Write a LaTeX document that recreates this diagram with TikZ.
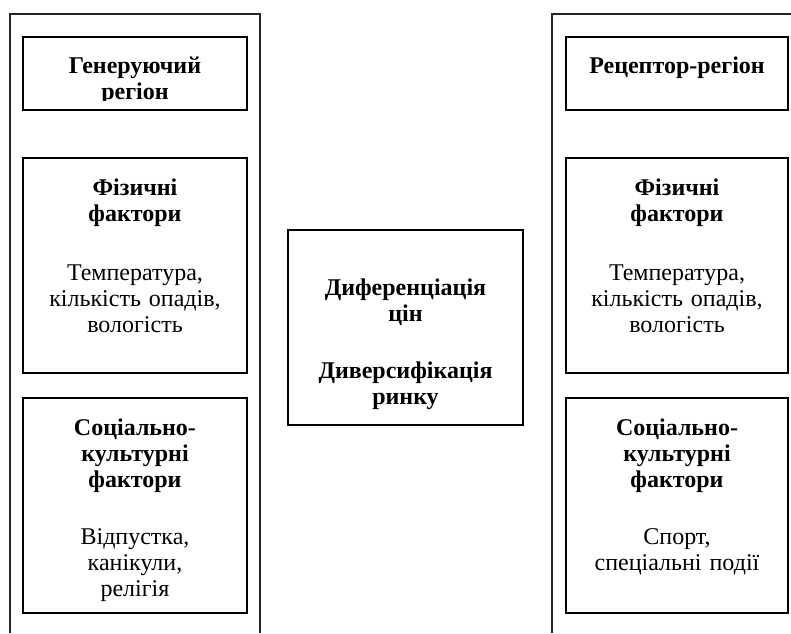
\documentclass[tikz,border=0pt]{standalone}
\usepackage{fontspec}
\setmainfont{Liberation Serif}
\begin{document}
\begin{tikzpicture}[x=1pt,y=-1pt,
  frameline/.style={line width=1.8pt, draw=black!85},
  boxnode/.style={draw, line width=2pt, inner sep=0pt, rectangle},
  txt/.style={inner sep=0pt, text width=215pt, align=center, anchor=base,
    font=\fontsize{24}{26}\selectfont}]
\useasboundingbox (0,0) rectangle (791,633);
% outer frames
\draw[frameline] (10,633) -- (10,14) -- (260,14) -- (260,633);
\draw[frameline] (552,633) -- (552,14) -- (791,14);
% left column
\node[boxnode, minimum width=224pt, minimum height=73pt] (gen) at (135,73.5) {};
\begin{scope}
\clip (24,38) rectangle (246,100);
\node[txt] (gent) at (135,73) {\textbf{Генеруючий}\\\textbf{регіон}};
\end{scope}
\node[boxnode, minimum width=224pt, minimum height=215pt] (physl) at (135,265.5) {};
\node[txt] (physlt) at (135,195) {\textbf{Фізичні}\\\textbf{фактори}\\[33pt]Температура,\\кількість опадів,\\вологість};
\node[boxnode, minimum width=224pt, minimum height=215pt] (socl) at (135,505.5) {};
\node[txt] (soclt) at (135,435) {\textbf{Соціально-}\\\textbf{культурні}\\\textbf{фактори}\\[31pt]Відпустка,\\канікули,\\релігія};
% center
\node[boxnode, minimum width=235pt, minimum height=195pt] (center) at (405.5,327.5) {};
\node[txt] (centert) at (405.5,295) {\textbf{Диференціація}\\\textbf{цін}\\[31pt]\textbf{Диверсифікація}\\\textbf{ринку}};
% right column
\node[boxnode, minimum width=222pt, minimum height=73pt] (rec) at (677,73.5) {};
\node[txt] (rect) at (677,73) {\textbf{Рецептор-регіон}};
\node[boxnode, minimum width=222pt, minimum height=215pt] (physr) at (677,265.5) {};
\node[txt] (physrt) at (677,195) {\textbf{Фізичні}\\\textbf{фактори}\\[33pt]Температура,\\кількість опадів,\\вологість};
\node[boxnode, minimum width=222pt, minimum height=215pt] (socr) at (677,505.5) {};
\node[txt] (socrt) at (677,435) {\textbf{Соціально-}\\\textbf{культурні}\\\textbf{фактори}\\[31pt]Спорт,\\спеціальні події};
\end{tikzpicture}
\end{document}
